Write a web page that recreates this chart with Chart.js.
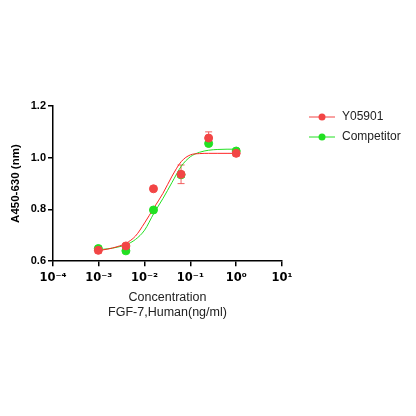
<!DOCTYPE html>
<html>
<head>
<meta charset="utf-8">
<script src="https://cdn.jsdelivr.net/npm/chart.js@4.4.1/dist/chart.umd.min.js"></script>
<style>
  html, body { margin: 0; padding: 0; background: #fff; }
</style>
</head>
<body>
<canvas id="chart" width="416" height="416"></canvas>
<script>
// measured points (ng/ml, 4-fold dilution)
var concentrations = [0.000977, 0.003906, 0.015625, 0.0625, 0.25, 1];
var y05901 = [0.642, 0.659, 0.880, 0.936, 1.076, 1.017];
var y05901Err = [0.010, 0.006, 0.004, 0.036, 0.024, 0.010];
var competitor = [0.649, 0.640, 0.798, 0.934, 1.055, 1.026];
var competitorErr = [0.006, 0.004, 0.004, 0.010, 0.006, 0.006];

// fitted curves
var curveX = [0.001, 0.00158, 0.00251, 0.00398, 0.00631, 0.01, 0.0158, 0.0251,
              0.0398, 0.0631, 0.1, 0.158, 0.251, 0.398, 0.631, 1];
var y05901Fit = [0.641, 0.647, 0.656, 0.670, 0.697, 0.748, 0.805, 0.862,
                 0.929, 0.985, 1.011, 1.016, 1.017, 1.017, 1.017, 1.017];
var competitorFit = [0.645, 0.648, 0.654, 0.664, 0.684, 0.720, 0.784, 0.842,
                     0.905, 0.967, 1.004, 1.021, 1.029, 1.032, 1.033, 1.033];

var xTicks = [0.0001, 0.001, 0.01, 0.1, 1, 10];
var xTickLabels = ['10\u207B\u2074', '10\u207B\u00B3', '10\u207B\u00B2', '10\u207B\u00B9', '10\u2070', '10\u00B9'];
var yTicks = [0.6, 0.8, 1.0, 1.2];

var seriesNames = ['Y05901', 'Competitor'];
var red = '#f24545';
var green = '#22e022';

function pts(xs, ys) {
    return xs.map(function (x, i) { return { x: x, y: ys[i] }; });
}

// error bars drawn behind the markers
var errorBars = {
    id: 'errorBars',
    beforeDatasetsDraw: function (chart) {
        var ctx = chart.ctx;
        var xs = chart.scales.x, ys = chart.scales.y;
        chart.data.datasets.forEach(function (ds) {
            if (!ds.err) return;
            ctx.save();
            ctx.strokeStyle = ds.errColor;
            ctx.lineWidth = 1;
            ds.data.forEach(function (p, i) {
                var px = xs.getPixelForValue(p.x);
                var top = ys.getPixelForValue(p.y + ds.err[i]);
                var bot = ys.getPixelForValue(p.y - ds.err[i]);
                ctx.beginPath();
                ctx.moveTo(px, top); ctx.lineTo(px, bot);
                ctx.moveTo(px - 3.5, top); ctx.lineTo(px + 3.5, top);
                ctx.moveTo(px - 3.5, bot); ctx.lineTo(px + 3.5, bot);
                ctx.stroke();
            });
            ctx.restore();
        });
    }
};

// legend: short line with a dot, like the original
var sideLegend = {
    id: 'sideLegend',
    afterDraw: function (chart) {
        var ctx = chart.ctx;
        ctx.save();
        ctx.font = '12px "Liberation Sans", Arial, sans-serif';
        ctx.textBaseline = 'middle';
        for (var i = 0; i < seriesNames.length; i++) {
            var ds = chart.data.datasets[i];
            var y = 117 + i * 20;
            ctx.strokeStyle = ds.borderColor;
            ctx.lineWidth = 1;
            ctx.beginPath();
            ctx.moveTo(309, y); ctx.lineTo(335, y);
            ctx.stroke();
            ctx.fillStyle = ds.backgroundColor;
            ctx.beginPath();
            ctx.arc(322, y, 3.5, 0, Math.PI * 2);
            ctx.fill();
            ctx.fillStyle = '#222';
            ctx.fillText(seriesNames[i], 342, y);
        }
        ctx.restore();
    }
};

var tickFont = { family: '"Liberation Sans", Arial, sans-serif', size: 11, weight: 'bold' };

new Chart(document.getElementById('chart'), {
    type: 'scatter',
    data: {
        datasets: [
            {
                label: seriesNames[0],
                data: pts(concentrations, y05901),
                err: y05901Err,
                errColor: 'rgba(240,70,70,0.85)',
                backgroundColor: red,
                borderColor: red,
                pointRadius: 4,
                showLine: false
            },
            {
                label: seriesNames[1],
                data: pts(concentrations, competitor),
                err: competitorErr,
                errColor: 'rgba(34,224,34,0.85)',
                backgroundColor: green,
                borderColor: green,
                pointRadius: 4,
                showLine: false
            },
            {
                label: 'fit1',
                data: pts(curveX, y05901Fit),
                borderColor: '#ff2424',
                borderWidth: 1,
                pointRadius: 0,
                showLine: true,
                cubicInterpolationMode: 'monotone'
            },
            {
                label: 'fit2',
                data: pts(curveX, competitorFit),
                borderColor: '#22e022',
                borderWidth: 1,
                pointRadius: 0,
                showLine: true,
                cubicInterpolationMode: 'monotone'
            }
        ]
    },
    options: {
        responsive: false,
        animation: false,
        layout: { padding: { left: 5, top: 106, right: 134, bottom: 92 } },
        plugins: {
            legend: { display: false },
            tooltip: { enabled: false }
        },
        scales: {
            x: {
                type: 'logarithmic',
                min: 0.0001,
                max: 10,
                afterBuildTicks: function (scale) {
                    scale.ticks = xTicks.map(function (v) { return { value: v, major: true }; });
                },
                grid: { drawOnChartArea: false, color: '#000', tickLength: 5, lineWidth: 1.5 },
                border: { color: '#000', width: 1.5 },
                ticks: {
                    color: '#000',
                    font: { family: '"DejaVu Sans", "Liberation Sans", Arial, sans-serif', size: 11.5, weight: 'bold' },
                    padding: 5,
                    maxRotation: 0,
                    autoSkip: false,
                    callback: function (v) {
                        var i = xTicks.indexOf(v);
                        return i >= 0 ? xTickLabels[i] : '';
                    }
                },
                title: {
                    display: true,
                    text: ['Concentration', 'FGF-7,Human(ng/ml)'],
                    color: '#222',
                    font: { family: '"Liberation Sans", Arial, sans-serif', size: 12.5 },
                    padding: { top: 0, bottom: 4 }
                }
            },
            y: {
                min: 0.6,
                max: 1.2,
                afterBuildTicks: function (scale) {
                    scale.ticks = yTicks.map(function (v) { return { value: v }; });
                },
                afterFit: function (scale) { scale.width = 48; },
                grid: { drawOnChartArea: false, color: '#000', tickLength: 5, lineWidth: 1.5 },
                border: { color: '#000', width: 1.5 },
                ticks: {
                    color: '#000',
                    font: tickFont,
                    padding: 2,
                    callback: function (v) { return v.toFixed(1); }
                },
                title: {
                    display: true,
                    text: 'A450-630 (nm)',
                    color: '#000',
                    font: { family: '"Liberation Sans", Arial, sans-serif', size: 11.5, weight: 'bold' },
                    padding: { top: 4, bottom: 4 }
                }
            }
        }
    },
    plugins: [errorBars, sideLegend]
});
</script>
</body>
</html>
